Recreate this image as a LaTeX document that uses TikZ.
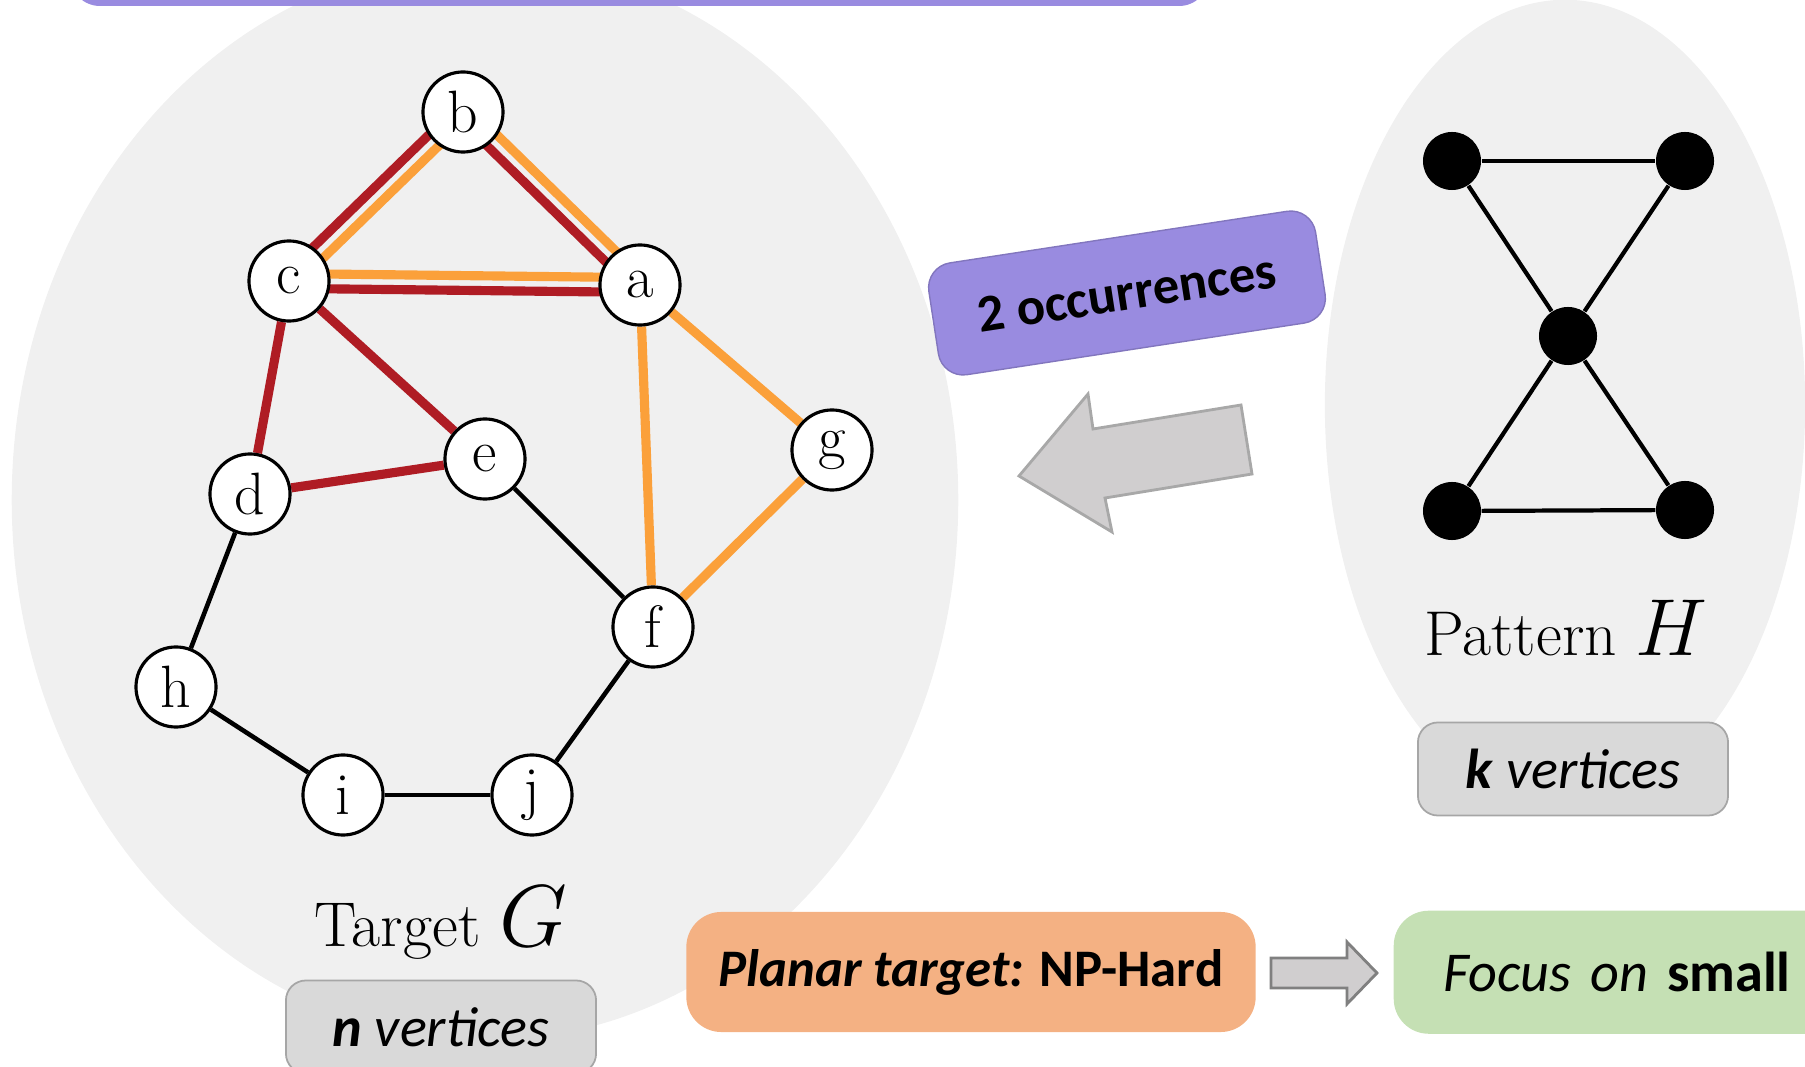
\RequirePackage{fix-cm}
\documentclass[tikz,border=0pt]{standalone}
\usepackage{fontspec}
\setsansfont{Carlito}
\usetikzlibrary{calc}

\definecolor{bgGray}{RGB}{240,240,240}
\definecolor{occPurple}{RGB}{153,139,224}
\definecolor{occRed}{RGB}{175,28,36}
\definecolor{occOrange}{RGB}{251,160,58}
\definecolor{arrowGray}{RGB}{208,206,207}
\definecolor{arrowEdge}{RGB}{168,168,168}
\definecolor{tagGray}{RGB}{217,217,217}
\definecolor{tagEdge}{RGB}{166,166,166}
\definecolor{peach}{RGB}{244,177,131}
\definecolor{mint}{RGB}{197,224,180}

\pgfdeclarelayer{backdrop}
\pgfdeclarelayer{edgelayer}
\pgfsetlayers{backdrop,edgelayer,main}

% half the distance between the two parallel edges of a shared pair
\newcommand\pairoff{2.1pt}

\begin{document}
\begin{tikzpicture}[x=0.01cm,y=-0.01cm,
  vtx/.style={circle,draw=black,line width=0.9pt,fill=white,minimum size=0.8cm,
              inner sep=0pt,font=\fontsize{17}{17}\selectfont},
  pvtx/.style={circle,fill=black,minimum size=0.58cm,inner sep=0pt},
  redE/.style={occRed,line width=2.6pt},
  orgE/.style={occOrange,line width=2.6pt},
  blkE/.style={black,line width=1.3pt},
  patE/.style={black,line width=1.2pt},
  tag/.style={draw=tagEdge,line width=0.5pt,fill=tagGray,rounded corners=0.2cm,
              minimum width=3.1cm,minimum height=0.93cm,inner sep=0pt,
              font=\sffamily\fontsize{16}{16}\selectfont},
  caption/.style={font=\fontsize{18}{18}\selectfont,anchor=base,inner sep=0pt},
  box/.style={rounded corners=0.35cm,inner sep=0pt,
              font=\sffamily\fontsize{16}{16}\selectfont},
  blockarrow/.style={fill=arrowGray,line width=0.8pt,line join=miter},
]
\useasboundingbox (0,0) rectangle (1805,1067);

% grey regions behind target and pattern
\begin{pgfonlayer}{backdrop}
  \fill[bgGray] (485,500) ellipse [x radius=4.73cm, y radius=5.4cm];
  \fill[bgGray] (1565,405) ellipse [x radius=2.4cm, y radius=4.05cm];
\end{pgfonlayer}

% banner at the top edge
\fill[occPurple, rounded corners=0.3cm] (70,-60) rectangle (1209,6);

% target graph G
\node[vtx] (a) at (640,285) {a};
\node[vtx] (b) at (463,112) {b};
\node[vtx] (c) at (289,281) {c};
\node[vtx] (d) at (250,494) {d};
\node[vtx] (e) at (485,459) {e};
\node[vtx] (f) at (653,627) {f};
\node[vtx] (g) at (832,450) {g};
\node[vtx] (h) at (176,687) {h};
\node[vtx] (i) at (343,795) {i};
\node[vtx] (j) at (532,795) {j};

% pattern graph H (bowtie)
\node[pvtx] (p1) at (1452,161) {};
\node[pvtx] (p2) at (1685,161) {};
\node[pvtx] (p0) at (1568,336) {};
\node[pvtx] (p3) at (1452,511) {};
\node[pvtx] (p4) at (1685,510) {};

\begin{pgfonlayer}{edgelayer}
  % triangle b-c-a shared by both occurrences
  \draw[redE] ($(b)!\pairoff!-90:(c)$) -- ($(c)!\pairoff!90:(b)$);
  \draw[orgE] ($(b)!\pairoff!90:(c)$) -- ($(c)!\pairoff!-90:(b)$);
  \draw[redE] ($(b)!\pairoff!-90:(a)$) -- ($(a)!\pairoff!90:(b)$);
  \draw[orgE] ($(b)!\pairoff!90:(a)$) -- ($(a)!\pairoff!-90:(b)$);
  \draw[redE] ($(c)!\pairoff!-90:(a)$) -- ($(a)!\pairoff!90:(c)$);
  \draw[orgE] ($(c)!\pairoff!90:(a)$) -- ($(a)!\pairoff!-90:(c)$);
  % first occurrence (centre c)
  \draw[redE] (c) -- (e);
  \draw[redE] (c) -- (d);
  \draw[redE] (d) -- (e);
  % second occurrence (centre a)
  \draw[orgE] (a) -- (f);
  \draw[orgE] (a) -- (g);
  \draw[orgE] (g) -- (f);
  % remaining edges
  \draw[blkE] (e) -- (f);
  \draw[blkE] (d) -- (h);
  \draw[blkE] (h) -- (i);
  \draw[blkE] (i) -- (j);
  \draw[blkE] (j) -- (f);
  % pattern edges
  \draw[patE] (p1) -- (p2);
  \draw[patE] (p1) -- (p0);
  \draw[patE] (p2) -- (p0);
  \draw[patE] (p0) -- (p3);
  \draw[patE] (p0) -- (p4);
  \draw[patE] (p3) -- (p4);
\end{pgfonlayer}

% captions and size tags
\node[caption] (capG) at (441,946) {Target {\fontsize{25}{25}\selectfont$G$}};
\node[caption] (capH) at (1566,656) {Pattern {\fontsize{23}{23}\selectfont$H$}};
\node[tag] (nv) at (441,1027) {\textbf{\textit{n}} \textit{vertices}};
\node[tag] (kv) at (1573,769) {\textbf{\textit{k}} \textit{vertices}};

% occurrence count and the arrow from pattern to target
\node[fill=occPurple, draw=occPurple!85!black, line width=0.4pt,
      rounded corners=0.25cm, rotate=8.7, minimum width=3.91cm,
      minimum height=1.13cm, inner sep=0pt,
      font=\sffamily\bfseries\fontsize{15}{15}\selectfont] (occ) at (1127,293) {2 occurrences};
\draw[blockarrow, draw=arrowEdge]
  (1019,476) -- (1088,394) -- (1093,429) -- (1241,405) -- (1252,474)
  -- (1105,498) -- (1112,532) -- cycle;

% bottom row
\node[box, fill=peach, minimum width=5.69cm, minimum height=1.2cm,
      font=\sffamily\fontsize{15}{15}\selectfont] (planar)
  at (971,972) {\textbf{\textit{Planar target:}} \textbf{NP-Hard}};
\node[box, fill=mint, anchor=north west, minimum height=1.23cm, text width=5cm,
      align=left, inner xsep=0.5cm] (focus)
  at (1393,910) {\textit{Focus on} \textbf{small}};
\draw[blockarrow, draw=gray]
  (1271,958) -- (1347,958) -- (1347,942) -- (1377,973) -- (1347,1004)
  -- (1347,988) -- (1271,988) -- cycle;
\end{tikzpicture}
\end{document}
